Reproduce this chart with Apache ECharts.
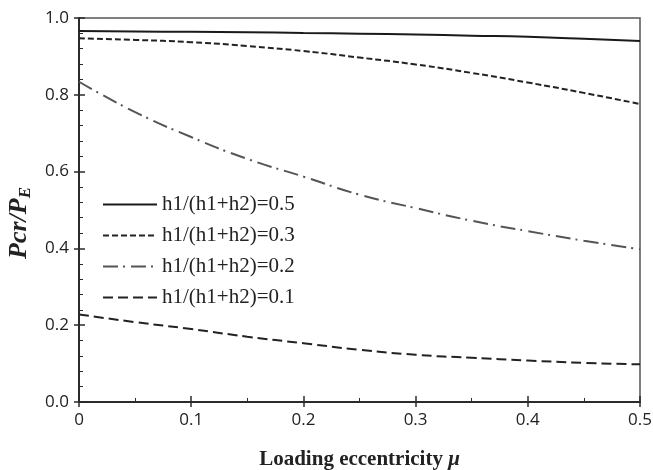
<!DOCTYPE html>
<html lang="en">
<head>
<meta charset="UTF-8">
<title>Pcr/PE vs loading eccentricity</title>
<style>
    body { margin: 0; padding: 0; background: #fff; }
    #chart { width: 653px; height: 470px; }
</style>
</head>
<body>
<script src="https://cdn.jsdelivr.net/npm/echarts@6/dist/echarts.min.js"></script>
<div id="chart"></div>
<script>
// data
var mu = [0, 0.05, 0.1, 0.15, 0.2, 0.25, 0.3, 0.35, 0.4, 0.45, 0.5];
var names = ['h1/(h1+h2)=0.5', 'h1/(h1+h2)=0.3', 'h1/(h1+h2)=0.2', 'h1/(h1+h2)=0.1'];
var r05 = [0.966, 0.965, 0.964, 0.963, 0.961, 0.959, 0.957, 0.954, 0.951, 0.946, 0.940];
var r03 = [0.947, 0.943, 0.937, 0.927, 0.914, 0.897, 0.879, 0.857, 0.832, 0.805, 0.776];
var r02 = [0.834, 0.755, 0.690, 0.633, 0.587, 0.540, 0.505, 0.472, 0.445, 0.420, 0.398];
var r01 = [0.228, 0.208, 0.190, 0.170, 0.153, 0.136, 0.123, 0.115, 0.108, 0.102, 0.098];

var myChart = echarts.init(document.getElementById('chart'));

function pairs(arr) {
    return arr.map(function (v, i) { return [mu[i], v]; });
}

var axisColor = '#2b2b2b';
var labelFont = { fontFamily: 'Open Sans', fontSize: 17, color: '#222' };

var option = {
    animation: false,
    backgroundColor: '#fff',
    grid: {
        left: 79, right: 13, top: 18, bottom: 68,
        outerBoundsMode: 'none',
        show: true, borderColor: '#555', borderWidth: 1.5
    },
    legend: {
        orient: 'vertical',
        left: 97,
        top: 189,
        itemWidth: 54,
        itemHeight: 14,
        itemGap: 10,
        itemStyle: { opacity: 0 },
        textStyle: { fontFamily: 'Liberation Serif', fontSize: 21, color: '#222', lineHeight: 21 },
        data: names
    },
    xAxis: [{
        type: 'value', min: 0, max: 0.5, interval: 0.1,
        name: '{a|Loading eccentricity }{b|μ}',
        nameLocation: 'middle', nameGap: 47,
        nameTextStyle: {
            rich: {
                a: { fontFamily: 'Liberation Serif', fontWeight: 'bold', fontSize: 21, color: '#222' },
                b: { fontFamily: 'Liberation Serif', fontWeight: 'bold', fontStyle: 'italic', fontSize: 21, color: '#222' }
            }
        },
        axisLine: { lineStyle: { color: axisColor, width: 2 } },
        axisTick: { inside: true, length: 6, lineStyle: { color: axisColor, width: 1.5 } },
        minorTick: { show: true, splitNumber: 2, length: 4, lineStyle: { color: axisColor, width: 1 } },
        axisLabel: Object.assign({ margin: 10, formatter: function (v) { return v === 0 ? '0' : v.toFixed(1); } }, labelFont),
        splitLine: { show: false }
    }, {
        // second copy only for the outer half of the major ticks
        type: 'value', min: 0, max: 0.5, interval: 0.1, position: 'bottom',
        axisLine: { show: false },
        axisTick: { inside: false, length: 5, lineStyle: { color: axisColor, width: 1.5 } },
        axisLabel: { show: false },
        splitLine: { show: false }
    }],
    yAxis: [{
        type: 'value', min: 0, max: 1, interval: 0.2,
        name: '{a|Pcr/P}{b|E}',
        nameLocation: 'middle', nameGap: 43, nameRotate: 90,
        nameTextStyle: {
            rich: {
                a: { fontFamily: 'Liberation Serif', fontWeight: 'bold', fontStyle: 'italic', fontSize: 26, color: '#222' },
                b: { fontFamily: 'Liberation Serif', fontWeight: 'bold', fontStyle: 'italic', fontSize: 17, color: '#222', padding: [12, 26, 0, 0] }
            }
        },
        axisLine: { lineStyle: { color: axisColor, width: 2 } },
        axisTick: { inside: true, length: 6, lineStyle: { color: axisColor, width: 1.5 } },
        minorTick: { show: true, splitNumber: 5, length: 4, lineStyle: { color: axisColor, width: 1 } },
        axisLabel: Object.assign({ margin: 10, formatter: function (v) { return v.toFixed(1); } }, labelFont),
        splitLine: { show: false }
    }, {
        type: 'value', min: 0, max: 1, interval: 0.2, position: 'left',
        axisLine: { show: false },
        axisTick: { inside: false, length: 5, lineStyle: { color: axisColor, width: 1.5 } },
        axisLabel: { show: false },
        splitLine: { show: false }
    }],
    series: [{
        name: names[0], type: 'line', smooth: true, symbol: 'none',
        lineStyle: { color: '#1a1a1a', width: 2, type: 'solid' },
        data: pairs(r05)
    }, {
        name: names[1], type: 'line', smooth: true, symbol: 'none',
        lineStyle: { color: '#222', width: 2, type: [6, 3] },
        data: pairs(r03)
    }, {
        name: names[2], type: 'line', smooth: true, symbol: 'none',
        lineStyle: { color: '#555', width: 2, type: [15, 5, 2, 6] },
        data: pairs(r02)
    }, {
        name: names[3], type: 'line', smooth: true, symbol: 'none',
        lineStyle: { color: '#222', width: 2, type: [10, 5] },
        data: pairs(r01)
    }]
};

myChart.setOption(option);
</script>
</body>
</html>
